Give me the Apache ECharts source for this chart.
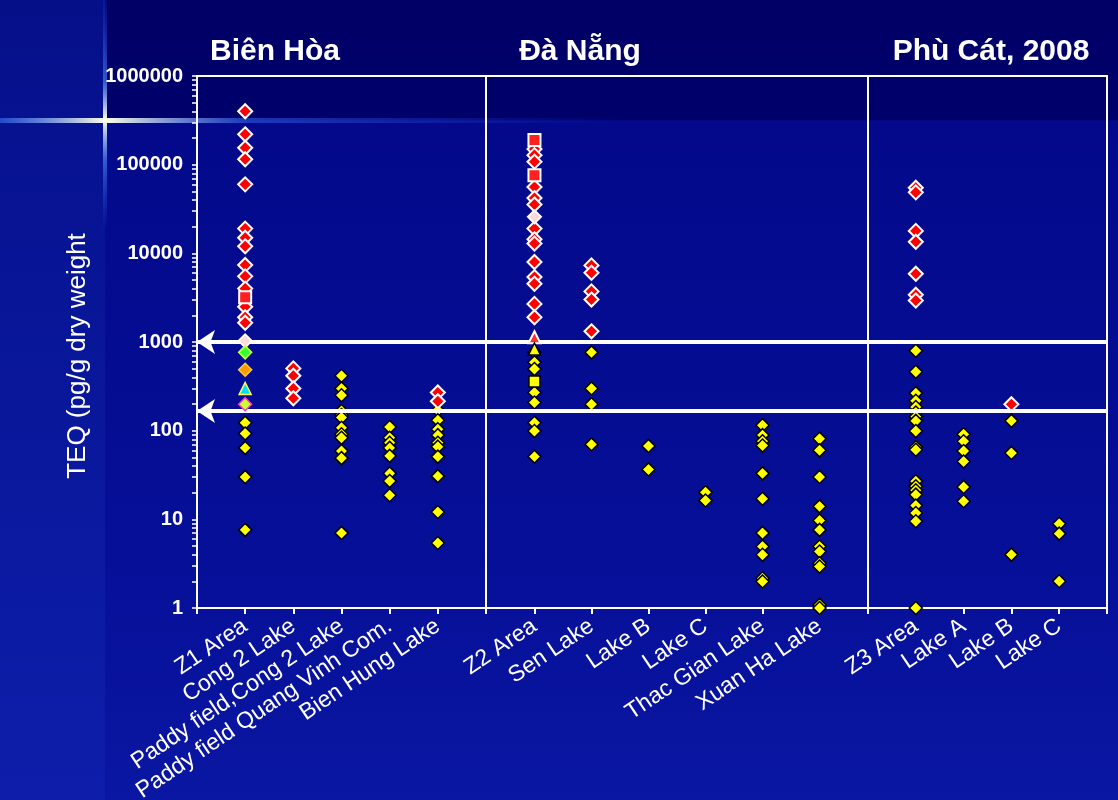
<!DOCTYPE html>
<html><head><meta charset="utf-8">
<script src="https://cdn.jsdelivr.net/npm/echarts@6/dist/echarts.min.js"></script>
<style>html,body{margin:0;padding:0;background:#000070}#c{width:1118px;height:800px}</style>
</head><body><div id="c"></div>
<script>
// ---------- data ----------
const groupTitles = ['Biên Hòa', 'Đà Nẵng', 'Phù Cát, 2008'];
const yAxisTitle = 'TEQ (pg/g dry weight';
const yTickLabels = ['1', '10', '100', '1000', '10000', '100000', '1000000'];
const thresholdValues = [1000, 167];

const bienHoaSites = ['Z1 Area', 'Cong 2 Lake', 'Paddy field,Cong 2 Lake', 'Paddy field Quang Vinh Com.', 'Bien Hung Lake'];
const daNangSites = ['Z2 Area', 'Sen Lake', 'Lake B', 'Lake C', 'Thac Gian Lake', 'Xuan Ha Lake'];
const phuCatSites = ['Z3 Area', 'Lake A', 'Lake B', 'Lake C'];

const bienHoaRed = [
  [400000, 220000, 155000, 115000, 60000, 19000, 15000, 12000, 7400, 5500, 4000, 2500, 1900, 1650],
  [504, 416, 299, 232],
  [],
  [],
  [270, 215]
];
const bienHoaYellow = [
  [123, 93, 64, 30, 7.6],
  [],
  [416, 299, 251, 167, 150, 141, 108, 91, 83, 59, 49, 7.0],
  [110, 83, 73, 64, 52, 33, 27, 18.7],
  [170, 131, 104, 89, 73, 66, 51, 30.7, 12.1, 5.4]
];
const daNangRed = [
  [150000, 128000, 108000, 56000, 42000, 35500, 19000, 14400, 12900, 7980, 5400, 4540, 2690, 1900],
  [7310, 6040, 3720, 3010, 1320],
  [], [], [], []
];
const daNangYellow = [
  [764, 590, 495, 269, 208, 123, 99, 51],
  [764, 299, 199, 70],
  [67, 36.5],
  [20.2, 16.3],
  [115, 89, 76, 68, 33, 17.1, 7.0, 4.94, 3.98, 2.17, 1.99],
  [81, 60, 30, 14, 9.7, 7.6, 4.94, 4.34, 3.2, 2.94, 1.08, 1.0]
];
const phuCatRed = [
  [55000, 48700, 17900, 13500, 5890, 3410, 2940],
  [],
  [199],
  []
];
const phuCatYellow = [
  [797, 461, 265, 217, 185, 160, 144, 129, 99, 65, 61, 26.9, 23.6, 21.3, 19, 14.3, 11.8, 9.5, 1.0],
  [91, 76, 59, 45, 23.2, 16],
  [129, 56, 4.0],
  [8.9, 6.9, 2.0]
];
// special markers: [group, site, value, kind]
const specialPoints = [
  [0, 'Z1 Area', 3200, 'crossSquare'],
  [0, 'Z1 Area', 1030, 'whiteMark'],
  [0, 'Z1 Area', 764, 'green'],
  [0, 'Z1 Area', 486, 'orange'],
  [0, 'Z1 Area', 299, 'cyanTri'],
  [0, 'Z1 Area', 199, 'magenta'],
  [1, 'Z2 Area', 190000, 'crossSquare'],
  [1, 'Z2 Area', 76000, 'crossSquare'],
  [1, 'Z2 Area', 25800, 'whiteMark'],
  [1, 'Z2 Area', 1130, 'redTri'],
  [1, 'Z2 Area', 834, 'yellowTri'],
  [1, 'Z2 Area', 359, 'yellowSquare']
];

// ---------- styles ----------
const FONT = '"Liberation Sans", Arial, sans-serif';
const specialStyles = {
  crossSquare: { symbol: 'rect', size: 12, color: '#ff2020', border: '#ffffff', bw: 2 },
  whiteMark: { symbol: 'diamond', size: 13, color: '#ffd8d8', border: '#ffffff', bw: 2 },
  green: { symbol: 'diamond', size: 13, color: '#33ff33', border: '#ccff44', bw: 1.5 },
  orange: { symbol: 'diamond', size: 13, color: '#ff9900', border: '#ffcc33', bw: 1.5 },
  cyanTri: { symbol: 'triangle', size: 12, color: '#00e0ff', border: '#ffff55', bw: 1.5 },
  magenta: { symbol: 'diamond', size: 13, color: '#ccff33', border: '#ff33cc', bw: 1.5 },
  redTri: { symbol: 'triangle', size: 12, color: '#ff3030', border: '#ffffff', bw: 2 },
  yellowTri: { symbol: 'triangle', size: 12, color: '#ffff00', border: '#000000', bw: 1.5 },
  yellowSquare: { symbol: 'rect', size: 11, color: '#ffff00', border: '#000000', bw: 1.5 }
};

const groups = [
  { sites: bienHoaSites, red: bienHoaRed, yellow: bienHoaYellow, min: 0, max: 6, left: 197, width: 289, ticks: [0, 1, 2, 3, 4, 5, 6] },
  { sites: daNangSites, red: daNangRed, yellow: daNangYellow, min: 0.15, max: 6.85, left: 486, width: 382, ticks: [1, 2, 3, 4, 5, 6] },
  { sites: phuCatSites, red: phuCatRed, yellow: phuCatYellow, min: 0, max: 5, left: 868, width: 239, ticks: [0, 1, 2, 3, 4, 5] }
];
const titleX = [275, 580, 991];

const yTickValues = [];
for (let e = 0; e < 6; e++) for (let m = 1; m < 10; m++) yTickValues.push(m * Math.pow(10, e));
yTickValues.push(1000000);

const TOP = 76, BOTTOM = 192;
const grids = [{ left: 197, right: 11, top: TOP, bottom: BOTTOM, outerBoundsMode: 'none', containLabel: false, show: true, borderColor: '#ffffff', borderWidth: 2, backgroundColor: 'transparent' }];
const xAxes = [{ gridIndex: 0, type: 'value', min: 0, max: 1, show: false }];
const yAxes = [{
  gridIndex: 0, type: 'log', logBase: 10, min: 1, max: 1000000,
  axisLine: { show: true, lineStyle: { color: '#ffffff', width: 2 } },
  axisTick: { show: true, length: 5, customValues: yTickValues, lineStyle: { color: '#ffffff', width: 1.5 } },
  axisLabel: { color: '#ffffff', fontSize: 20, fontWeight: 'bold', fontFamily: FONT, margin: 14,
    formatter: v => yTickLabels[Math.round(Math.log10(v))] },
  splitLine: { show: false }
}];
const series = [{
  type: 'line', xAxisIndex: 0, yAxisIndex: 0, data: [], silent: true,
  markLine: {
    silent: true, symbol: ['arrow', 'none'], symbolSize: 18,
    lineStyle: { color: '#ffffff', width: 4, type: 'solid' },
    label: { show: false },
    data: thresholdValues.map(v => ({ yAxis: v }))
  }
}];

groups.forEach((g, gi) => {
  const idx = gi + 1;
  grids.push({ left: g.left, width: g.width, top: TOP, bottom: BOTTOM, outerBoundsMode: 'none', containLabel: false, show: gi === 1, borderColor: '#ffffff', borderWidth: 2, backgroundColor: 'transparent' });
  xAxes.push({
    gridIndex: idx, type: 'value', min: g.min, max: g.max,
    axisLine: { show: true, lineStyle: { color: '#ffffff', width: 2 } },
    axisTick: { show: true, length: 6, customValues: g.ticks, lineStyle: { color: '#ffffff', width: 2 } },
    axisLabel: { customValues: g.ticks.filter(t => t >= 1 && t <= g.sites.length), rotate: 34, color: '#ffffff', fontSize: 23, fontFamily: FONT, margin: 16,
      formatter: v => g.sites[Math.round(v) - 1] || '' },
    splitLine: { show: false }
  });
  yAxes.push({ gridIndex: idx, type: 'log', logBase: 10, min: 1, max: 1000000, show: false, splitLine: { show: false } });
  const yellowData = [], redData = [];
  g.yellow.forEach((arr, i) => arr.forEach(v => yellowData.push([i + 1, v])));
  g.red.forEach((arr, i) => arr.forEach(v => redData.push([i + 1, v])));
  series.push({
    type: 'scatter', xAxisIndex: idx, yAxisIndex: idx, data: yellowData, symbol: 'diamond', symbolSize: 13,
    itemStyle: { color: '#ffff00', borderColor: '#000000', borderWidth: 1.5, opacity: 1 }, z: 3
  });
  series.push({
    type: 'scatter', xAxisIndex: idx, yAxisIndex: idx, data: redData, symbol: 'diamond', symbolSize: 14,
    itemStyle: { color: '#ff0000', borderColor: '#ffffff', borderWidth: 2, opacity: 1 }, z: 4
  });
  specialPoints.filter(p => p[0] === gi).forEach(p => {
    const st = specialStyles[p[3]];
    series.push({
      type: 'scatter', xAxisIndex: idx, yAxisIndex: idx, data: [[g.sites.indexOf(p[1]) + 1, p[2]]],
      symbol: st.symbol, symbolSize: st.size,
      itemStyle: { color: st.color, borderColor: st.border, borderWidth: st.bw, opacity: 1 }, z: 5
    });
  });
});

const graphics = [
  { type: 'rect', z: -20, shape: { x: 0, y: 0, width: 1118, height: 800 },
    style: { fill: new echarts.graphic.LinearGradient(0, 0, 0, 1, [
      { offset: 0, color: '#000066' }, { offset: 0.15, color: '#00006c' }, { offset: 0.151, color: '#03098a' },
      { offset: 0.7, color: '#060f98' }, { offset: 1, color: '#0a17a2' }]) } },
  { type: 'rect', z: -19, shape: { x: 0, y: 0, width: 105, height: 800 },
    style: { fill: new echarts.graphic.LinearGradient(0, 0, 0, 1, [
      { offset: 0, color: '#050f88' }, { offset: 0.15, color: '#061290' }, { offset: 1, color: '#0e1eaa' }]) } },
  { type: 'rect', z: -18, shape: { x: 0, y: 118, width: 620, height: 5 },
    style: { fill: new echarts.graphic.LinearGradient(0, 0, 1, 0, [
      { offset: 0, color: 'rgba(60,120,255,0.55)' }, { offset: 0.17, color: 'rgba(255,255,230,1)' },
      { offset: 0.4, color: 'rgba(60,120,255,0.45)' }, { offset: 1, color: 'rgba(40,80,255,0)' }]) } },
  { type: 'rect', z: -18, shape: { x: 103, y: 0, width: 4, height: 230 },
    style: { fill: new echarts.graphic.LinearGradient(0, 0, 0, 1, [
      { offset: 0, color: 'rgba(40,90,255,0.1)' }, { offset: 0.35, color: 'rgba(80,140,255,0.6)' },
      { offset: 0.52, color: 'rgba(255,255,230,1)' }, { offset: 0.7, color: 'rgba(80,140,255,0.6)' },
      { offset: 1, color: 'rgba(40,90,255,0)' }]) } },
  { type: 'text', z: 10, x: 78, y: 356, rotation: Math.PI / 2,
    style: { text: yAxisTitle, fill: '#ffffff', font: '26px ' + FONT, textAlign: 'center', textVerticalAlign: 'middle' } }
];
groupTitles.forEach((t, i) => graphics.push({
  type: 'text', z: 10, x: titleX[i], y: 52,
  style: { text: t, fill: '#ffffff', font: 'bold 30px ' + FONT, textAlign: 'center', textVerticalAlign: 'middle' }
}));

const chart = echarts.init(document.getElementById('c'), null, { renderer: 'canvas' });
chart.setOption({
  backgroundColor: '#000070',
  animation: false,
  grid: grids,
  xAxis: xAxes,
  yAxis: yAxes,
  series: series,
  graphic: graphics
});
</script></body></html>
